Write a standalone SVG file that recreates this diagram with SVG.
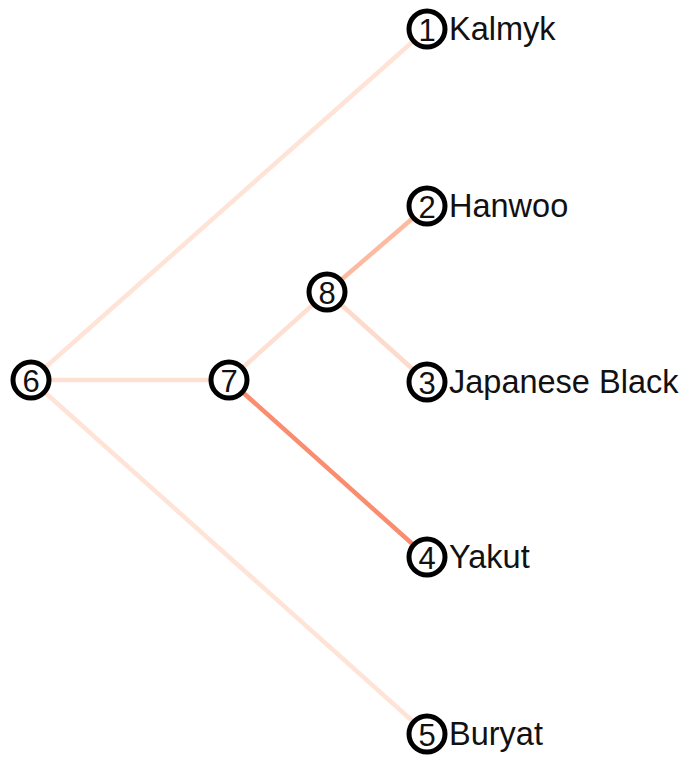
<svg xmlns="http://www.w3.org/2000/svg" width="686" height="760" viewBox="0 0 686 760">
<style>
.e{stroke-width:4.5;fill:none;stroke-linecap:butt}
.n circle{fill:#fff;stroke:#000;stroke-width:5}
.n text{font-family:"Liberation Sans",Arial,sans-serif;fill:#111}
.d{font-size:31px;text-anchor:middle;dominant-baseline:central}
.l{font-size:32.5px}
</style>
<rect width="686" height="760" fill="#fff"/>
<g id="edges">
<line class="e" x1="31" y1="380" x2="427" y2="29" stroke="#fee3d6"/>
<line class="e" x1="31" y1="380" x2="229" y2="380" stroke="#fee0d2"/>
<line class="e" x1="31" y1="380" x2="427" y2="734" stroke="#fee3d6"/>
<line class="e" x1="229" y1="380" x2="327" y2="292" stroke="#fee0d2"/>
<line class="e" x1="229" y1="380" x2="427" y2="557" stroke="#fa8c6f"/>
<line class="e" x1="327" y1="292" x2="427" y2="206" stroke="#fcbba1"/>
<line class="e" x1="327" y1="292" x2="427" y2="382" stroke="#fddbcb"/>
</g>
<g id="node1" class="n"><circle cx="427" cy="29" r="18"/><text class="d" x="427" y="30">1</text><text class="l" x="449" y="40">Kalmyk</text></g>
<g id="node2" class="n"><circle cx="427" cy="206" r="18"/><text class="d" x="427" y="207">2</text><text class="l" x="449" y="217">Hanwoo</text></g>
<g id="node3" class="n"><circle cx="427" cy="382" r="18"/><text class="d" x="427" y="383">3</text><text class="l" x="449" y="393">Japanese Black</text></g>
<g id="node4" class="n"><circle cx="427" cy="557" r="18"/><text class="d" x="427" y="558">4</text><text class="l" x="449" y="568">Yakut</text></g>
<g id="node5" class="n"><circle cx="427" cy="734" r="18"/><text class="d" x="427" y="735">5</text><text class="l" x="449" y="745">Buryat</text></g>
<g id="node6" class="n"><circle cx="31" cy="380" r="18"/><text class="d" x="31" y="381">6</text></g>
<g id="node7" class="n"><circle cx="229" cy="380" r="18"/><text class="d" x="229" y="381">7</text></g>
<g id="node8" class="n"><circle cx="327" cy="292" r="18"/><text class="d" x="327" y="293">8</text></g>
</svg>
